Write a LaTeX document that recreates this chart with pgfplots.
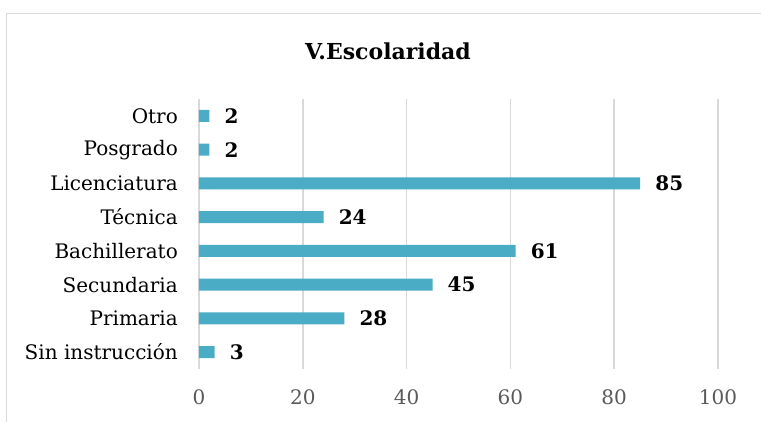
\documentclass[border=0pt]{standalone}
\usepackage{fontspec}
\setmainfont{DejaVu Serif}
\usepackage{pgfplots}
\pgfplotsset{compat=1.18}

\definecolor{barcol}{RGB}{75,172,198}
\definecolor{gridcol}{RGB}{217,217,217}
\definecolor{tickcol}{RGB}{89,89,89}

\begin{document}
\begin{tikzpicture}
\useasboundingbox (-199pt,-52pt) rectangle (562pt,369pt);
\begin{axis}[
  at={(0,0)}, anchor=south west,
  scale only axis, width=519pt, height=270pt,
  xbar, bar width=12pt,
  xmin=0, xmax=100, ymin=-0.5, ymax=7.5,
  xtick={0,20,40,60,80,100},
  ytick={0,...,7},
  yticklabels={Sin instrucción,Primaria,Secundaria,Bachillerato,Técnica,Licenciatura,Posgrado,Otro},
  axis lines*=left, axis line style={draw=none},
  major tick length=0pt,
  xmajorgrids, grid style={gridcol, line width=1.5pt},
  /pgf/number format/assume math mode=true,
  tick label style={font=\fontsize{20}{24}\selectfont, inner sep=0pt},
  yticklabel style={anchor=east, xshift=-21pt, text=black},
  xticklabel style={anchor=north, yshift=-20pt, text=tickcol},
  nodes near coords,
  every node near coord/.append style={font=\fontsize{20}{24}\selectfont\bfseries, text=black, anchor=west, inner sep=0pt, xshift=15pt},
  clip=false,
]
\addplot[fill=barcol, draw=none] coordinates {(3,0) (28,1) (45,2) (61,3) (24,4) (85,5) (2,6) (2,7)};
\end{axis}
\draw[gridcol, line width=1.5pt] (-192.5pt,-60pt) -- (-192.5pt,355.5pt) -- (570pt,355.5pt);
\node[font=\fontsize{22}{26}\selectfont\bfseries] at (189pt,318pt) {V.Escolaridad};
\end{tikzpicture}
\end{document}
